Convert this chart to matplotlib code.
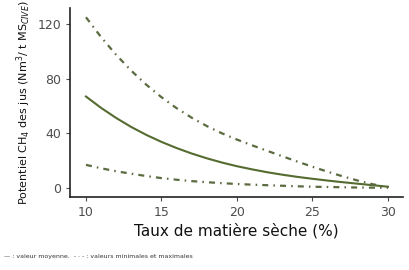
import matplotlib
matplotlib.use("Agg")
import matplotlib.pyplot as plt

# Data
ms = [10, 11, 12, 13, 14, 15, 16, 17, 18, 19, 20,
      21, 22, 23, 24, 25, 26, 27, 28, 29, 30]
moyenne = [67, 58.7, 51.3, 44.7, 38.9, 33.8, 29.3, 25.3, 21.8, 18.7, 16.0,
           13.7, 11.6, 9.8, 8.2, 6.8, 5.5, 4.3, 3.2, 2.1, 1.0]
maximum = [125, 110.5, 97.5, 85.9, 75.6, 66.5, 58.5, 51.5, 45.4, 40.1, 35.5,
           31.3, 27.3, 23.3, 19.4, 15.6, 12.0, 8.6, 5.5, 2.8, 0.5]
minimum = [17, 14.5, 12.3, 10.5, 8.8, 7.3, 6.1, 5.1, 4.3, 3.6, 3.0,
           2.5, 2.1, 1.7, 1.3, 1.0, 0.8, 0.6, 0.4, 0.3, 0.2]
x_ticks = [10, 15, 20, 25, 30]
y_ticks = [0, 40, 80, 120]

green = "#556b2f"
green_dd = "#5b6b40"
grey = "#4d4d4d"

fig = plt.figure(figsize=(4.1, 2.7), dpi=100)
ax = fig.add_axes([0.171, 0.27, 0.812, 0.70])

ax.plot(ms, moyenne, color=green, lw=1.5)
ax.plot(ms, maximum, color=green_dd, lw=1.6, linestyle=(0, (2.7, 2.3, 0.7, 2.3)))
ax.plot(ms, minimum, color=green_dd, lw=1.6, linestyle=(0, (2.7, 2.3, 0.7, 2.3)))

ax.set_xlim(8.95, 31)
ax.set_ylim(-6.6, 131.7)
ax.set_xticks(x_ticks)
ax.set_yticks(y_ticks)
ax.tick_params(colors=grey, labelsize=9, length=3, width=0.8)
for s in ["top", "right"]:
    ax.spines[s].set_visible(False)
for s in ["left", "bottom"]:
    ax.spines[s].set_linewidth(1.2)
    ax.spines[s].set_color("#222222")

ax.set_xlabel("Taux de matière sèche (%)", fontsize=11, color="#111111", labelpad=3)
ax.set_ylabel("Potentiel CH$_4$ des jus (Nm$^3$/ t MS$_{CIVE}$)", fontsize=8,
              color="#111111", labelpad=3)

fig.text(0.01, 0.045, "— : valeur moyenne.  - · - : valeurs minimales et maximales",
         fontsize=4.5, color="#333333")

fig.savefig("out.png", dpi=100)
